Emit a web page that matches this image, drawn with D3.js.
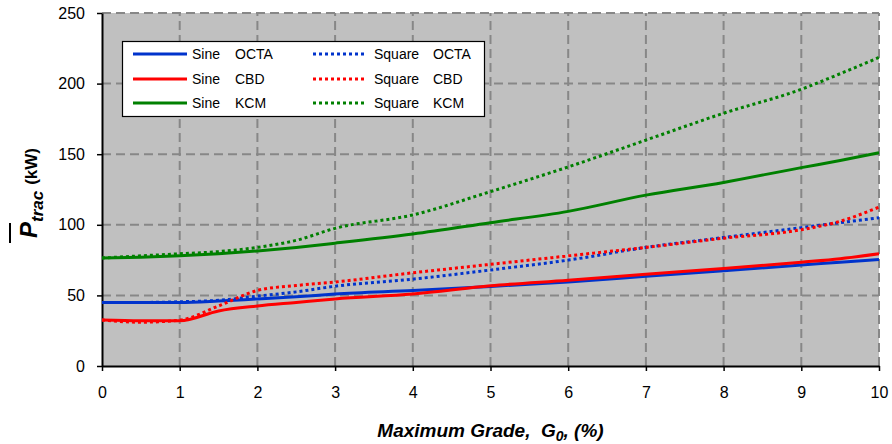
<!DOCTYPE html>
<html>
<head>
<meta charset="utf-8">
<script src="https://cdn.jsdelivr.net/npm/d3@7"></script>
<style>
  html, body { margin: 0; padding: 0; background: #fff; }
  svg { display: block; font-family: Arial, "Liberation Sans", sans-serif; }
</style>
</head>
<body>
<svg id="chart" width="892" height="444"></svg>
<script>
// Maximum grade (%) at which traction power was evaluated
const grade = [0, 0.5, 1, 1.5, 2, 2.5, 3, 4, 5, 6, 7, 8, 9, 9.5, 10];

// Mean traction power (kW), sinusoidal grade profile
const sineOCTA = [45, 45, 45, 46, 47.5, 49, 51, 53.5, 56.3, 59.5, 63.5, 67.5, 71.5, 73.5, 75.5];
const sineCBD  = [32.5, 32, 32, 39, 42.5, 45, 47.5, 51, 56.8, 60.8, 65, 69, 73.5, 76, 79.5];
const sineKCM  = [76.5, 77, 78, 79.5, 81.5, 84, 87, 93.5, 101.5, 109.5, 121, 130, 140.5, 145.5, 151];

// Mean traction power (kW), square-wave grade profile
const squareOCTA = [45, 45, 45.5, 46.5, 49.5, 52.5, 56.5, 61.5, 68, 75, 84, 91, 98, 101.5, 105];
const squareCBD  = [32.5, 31, 32.5, 42.5, 53.5, 57, 59.5, 66, 72, 78, 84, 90.5, 96.5, 102.5, 112.5];
const squareKCM  = [76.5, 78, 79.5, 81, 84, 89, 97.5, 107, 123.5, 141, 160, 179, 196, 207, 218.5];

const xTicks = [0, 1, 2, 3, 4, 5, 6, 7, 8, 9, 10];
const yTicks = [0, 50, 100, 150, 200, 250];

const seriesNames = [
  ["Sine", "OCTA"], ["Sine", "CBD"], ["Sine", "KCM"],
  ["Square", "OCTA"], ["Square", "CBD"], ["Square", "KCM"]
];
const seriesValues = [sineOCTA, sineCBD, sineKCM, squareOCTA, squareCBD, squareKCM];
const seriesColors = ["#0033CC", "#FF0000", "#008000", "#0033CC", "#FF0000", "#008000"];

const svg = d3.select("#chart");

const x = d3.scaleLinear().domain([0, 10]).range([102, 879]);
const y = d3.scaleLinear().domain([0, 250]).range([366, 13]);

// plot area background
svg.append("rect")
  .attr("x", x(0)).attr("y", y(250))
  .attr("width", x(10) - x(0)).attr("height", y(0) - y(250))
  .attr("fill", "#C0C0C0");

// dashed grid
const grid = svg.append("g")
  .attr("stroke", "#878787").attr("stroke-width", 2)
  .attr("stroke-dasharray", "9,5").attr("fill", "none");
grid.selectAll("line.v").data(xTicks.filter(d => d > 0)).join("line")
  .attr("x1", d => x(d)).attr("x2", d => x(d))
  .attr("y1", y(0)).attr("y2", y(250));
grid.selectAll("line.h").data(yTicks.filter(d => d > 0)).join("line")
  .attr("x1", x(0)).attr("x2", x(10))
  .attr("y1", d => y(d)).attr("y2", d => y(d));

// axes
const yAxis = svg.append("g")
  .attr("transform", `translate(${x(0)},0)`)
  .call(d3.axisLeft(y).tickValues(yTicks).tickSize(5).tickPadding(12).tickSizeOuter(0));
const xAxis = svg.append("g")
  .attr("transform", `translate(0,${y(0)})`)
  .call(d3.axisBottom(x).tickValues(xTicks).tickSize(5).tickPadding(16).tickSizeOuter(0));
[xAxis, yAxis].forEach(ax => {
  ax.select(".domain").attr("stroke", "#000").attr("stroke-width", 2);
  ax.selectAll(".tick line").attr("stroke", "#000").attr("stroke-width", 1.5);
  ax.selectAll(".tick text")
    .attr("fill", "#000").attr("font-size", 16)
    .attr("font-family", "Arial, 'Liberation Sans', sans-serif");
});

// series lines
const line = d3.line().curve(d3.curveMonotoneX)
  .x((d, i) => x(grade[i])).y(d => y(d));
const lines = svg.append("g").attr("fill", "none");
seriesValues.forEach((vals, k) => {
  lines.append("path")
    .datum(vals)
    .attr("d", line)
    .attr("stroke", seriesColors[k])
    .attr("stroke-width", 3)
    .attr("stroke-dasharray", k >= 3 ? "3,3" : null);
});

// legend
const legend = svg.append("g");
legend.append("rect")
  .attr("x", 122.5).attr("y", 41.5).attr("width", 362).attr("height", 75)
  .attr("fill", "#fff").attr("stroke", "#000").attr("stroke-width", 1.2);
const rowY = [54, 79, 103];
seriesNames.forEach((nm, k) => {
  const col = k < 3 ? 0 : 1;
  const row = k % 3;
  const x0 = col === 0 ? 133 : 313;
  legend.append("line")
    .attr("x1", x0).attr("x2", x0 + 54)
    .attr("y1", rowY[row]).attr("y2", rowY[row])
    .attr("stroke", seriesColors[k]).attr("stroke-width", 3)
    .attr("stroke-dasharray", k >= 3 ? "3,3" : null);
  legend.append("text")
    .attr("x", col === 0 ? 192 : 374).attr("y", rowY[row]).attr("dy", "0.35em")
    .attr("font-size", 14).text(nm[0]);
  legend.append("text")
    .attr("x", col === 0 ? 235 : 433).attr("y", rowY[row]).attr("dy", "0.35em")
    .attr("font-size", 14).text(nm[1]);
});

// x axis title
const xt = svg.append("text")
  .attr("x", (x(0) + x(10)) / 2).attr("y", 437)
  .attr("text-anchor", "middle")
  .attr("font-size", 19).attr("font-weight", "bold").attr("font-style", "italic");
xt.append("tspan").text("Maximum Grade,\u00A0 G");
xt.append("tspan").attr("font-size", 14).attr("dy", 4).text("0");
xt.append("tspan").attr("dy", -4).text(", (%)");

// y axis title with mean bar over P
const yt = svg.append("g").attr("transform", "translate(37,238) rotate(-90)");
const ytext = yt.append("text")
  .attr("x", 0).attr("y", 0)
  .attr("font-weight", "bold");
ytext.append("tspan").attr("font-size", 24).attr("font-style", "italic").text("P");
ytext.append("tspan").attr("font-size", 17).attr("font-style", "italic").attr("dy", 6).text("trac");
ytext.append("tspan").attr("font-size", 17).attr("dy", -6).attr("dx", 6).text("(kW)");
yt.append("line")
  .attr("x1", -5).attr("x2", 15)
  .attr("y1", -27).attr("y2", -27)
  .attr("stroke", "#000").attr("stroke-width", 2);
</script>
</body>
</html>
